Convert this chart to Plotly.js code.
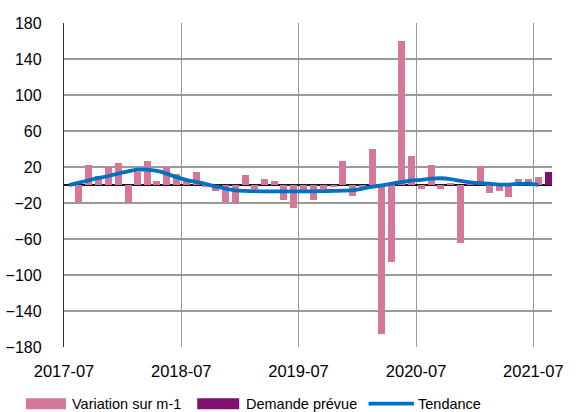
<!DOCTYPE html>
<html>
<head>
<meta charset="utf-8">
<script src="https://cdn.plot.ly/plotly-3.0.1.min.js"></script>
<style>html,body{margin:0;padding:0;background:#fff;}#chart{width:576px;height:412px;}</style>
</head>
<body>
<div id="chart"></div>
<script>
const barMonths = ['2017-08','2017-09','2017-10','2017-11','2017-12',
 '2018-01','2018-02','2018-03','2018-04','2018-05','2018-06','2018-07','2018-08','2018-09','2018-10','2018-11','2018-12',
 '2019-01','2019-02','2019-03','2019-04','2019-05','2019-06','2019-07','2019-08','2019-09','2019-10','2019-11','2019-12',
 '2020-01','2020-02','2020-03','2020-04','2020-05','2020-06','2020-07','2020-08','2020-09','2020-10','2020-11','2020-12',
 '2021-01','2021-02','2021-03','2021-04','2021-05','2021-06','2021-07'];
const variation = [-19,22,10,20,25,
 -20,14,27,4,20,12,6,14,-2,-7,-19,-20,
 11,-4,7,5,-17,-25,-5,-17,-4,-2,27,-12,
 -2,40,-166,-86,160,32,-4,22,-4,2,-64,1,
 21,-9,-7,-13,7,7,9];
const demandeMonths = ['2021-08'];
const demande = [15];
const trendMonths = ['2017-07','2017-08','2017-09','2017-10','2017-11','2017-12',
 '2018-01','2018-02','2018-03','2018-04','2018-05','2018-06','2018-07','2018-08','2018-09','2018-10','2018-11','2018-12',
 '2019-01','2019-02','2019-03','2019-04','2019-05','2019-06','2019-07','2019-08','2019-09','2019-10','2019-11','2019-12',
 '2020-01','2020-02','2020-03','2020-04','2020-05','2020-06','2020-07','2020-08','2020-09','2020-10','2020-11','2020-12',
 '2021-01','2021-02','2021-03','2021-04','2021-05','2021-06','2021-07'];
const tendance = [0,2.7,5.2,7.8,10,12.7,
 15.2,17,17,15.6,12.7,8.7,5.6,3.3,1.1,-1.8,-4,-5.9,
 -6.6,-6.9,-7,-7,-7,-7,-7,-7,-6.8,-6.5,-6.3,-5.8,
 -4,-2,-0.3,1.5,3.3,5,5.8,7,7.5,6.5,4.5,3,
 2,1.5,0.5,0.5,1.2,1.5,0];
const legendLabels = ['Variation sur m-1','Demande prévue','Tendance'];
const colors = {variation:'#D5769B', demande:'#7E1070', tendance:'#0070C0'};

const barWidth = 22*24*3600*1000;
const traces = [
 {type:'bar', x:barMonths, y:variation, name:legendLabels[0], marker:{color:colors.variation},
  xperiod:'M1', xperiodalignment:'middle', width:barWidth, showlegend:false},
 {type:'bar', x:demandeMonths, y:demande, name:legendLabels[1], marker:{color:colors.demande},
  xperiod:'M1', xperiodalignment:'middle', width:barWidth, showlegend:false},
 {type:'scatter', mode:'lines', x:trendMonths, y:tendance, name:legendLabels[2],
  xperiod:'M1', xperiodalignment:'middle',
  line:{color:colors.tendance, width:3.8, shape:'spline', smoothing:1}, showlegend:false}
];

const font = {family:'"Liberation Sans", Arial, sans-serif', color:'#000'};
const ly = -0.175;
const shapes = [
 {type:'rect', xref:'paper', yref:'paper', x0:-0.078, x1:0.004, y0:ly-0.017, y1:ly+0.017, fillcolor:colors.variation, line:{width:0}},
 {type:'rect', xref:'paper', yref:'paper', x0:0.273, x1:0.359, y0:ly-0.017, y1:ly+0.017, fillcolor:colors.demande, line:{width:0}},
 {type:'line', xref:'paper', yref:'paper', x0:0.624, x1:0.717, y0:ly, y1:ly, line:{color:colors.tendance, width:3.8}}
];
const annXs = [0.013, 0.368, 0.722];
const annotations = legendLabels.map((t,i)=>({xref:'paper', yref:'paper', x:annXs[i], y:ly, text:t, showarrow:false,
  xanchor:'left', yanchor:'middle', font:Object.assign({size:14.5}, font)}));

const layout = {
 width:576, height:412,
 margin:{l:64, r:24, t:23, b:65},
 paper_bgcolor:'#fff', plot_bgcolor:'#fff',
 bargap:0, barmode:'overlay',
 font:font,
 xaxis:{type:'date', range:['2017-07-01','2021-08-28'], tick0:'2017-07-01', dtick:'M12', tickformat:'%Y-%m',
   showgrid:true, gridcolor:'#9a9a9a', gridwidth:1.2, zeroline:false, showline:false, ticks:'',
   ticklabelstandoff:12, tickfont:Object.assign({size:16.5}, font)},
 yaxis:{range:[-180,180], tick0:20, dtick:40, showgrid:true, gridcolor:'#9a9a9a', gridwidth:1.2,
   zeroline:true, zerolinecolor:'#1a1a1a', zerolinewidth:1.6,
   showline:true, linecolor:'#333', linewidth:1.2, ticks:'', ticklabelstandoff:18,
   tickfont:Object.assign({size:16}, font)},
 shapes:shapes, annotations:annotations, showlegend:false
};
Plotly.newPlot('chart', traces, layout, {staticPlot:true, displayModeBar:false});
</script>
</body>
</html>
